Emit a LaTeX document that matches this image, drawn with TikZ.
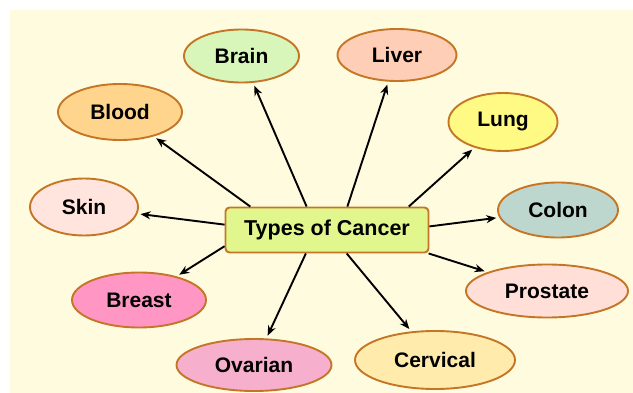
\documentclass[tikz,border=0pt]{standalone}
\usepackage{fontspec}
\setmainfont{Liberation Sans}
\usetikzlibrary{positioning}
\usetikzlibrary{shapes.geometric}
\usetikzlibrary{arrows.meta}

\definecolor{cream}{RGB}{255,251,222}
\definecolor{rim}{RGB}{196,118,38}
\definecolor{hubfill}{RGB}{226,246,142}
\definecolor{brainfill}{RGB}{216,245,186}
\definecolor{liverfill}{RGB}{255,206,182}
\definecolor{bloodfill}{RGB}{255,213,142}
\definecolor{lungfill}{RGB}{255,250,132}
\definecolor{skinfill}{RGB}{255,229,221}
\definecolor{colonfill}{RGB}{190,215,206}
\definecolor{breastfill}{RGB}{255,150,196}
\definecolor{prostatefill}{RGB}{255,223,216}
\definecolor{ovarianfill}{RGB}{246,176,206}
\definecolor{cervicalfill}{RGB}{255,236,172}

\tikzset{
    organ/.style={ellipse, draw=rim, line width=1.9pt, inner sep=0pt,
        font=\bfseries\fontsize{21}{24}\selectfont},
    hub/.style={rectangle, rounded corners=4pt, draw=rim, line width=1.9pt, fill=hubfill,
        minimum width=203pt, minimum height=45pt, inner sep=0pt,
        font=\bfseries\fontsize{21.5}{24}\selectfont},
    spoke/.style={-{Stealth[length=10pt,width=8pt]}, line width=1.9pt, shorten >=3pt}
}

\begin{document}
\begin{tikzpicture}[on grid]
    \useasboundingbox (0,0) rectangle (633pt,-393pt);
    \fill [cream] (10pt,-10pt) rectangle (633pt,-393pt);

    \node [hub] (cancer) at (327pt,-230pt) {Types of Cancer};

    \node [organ, fill=brainfill, minimum width=115pt, minimum height=53pt, above left=174pt and 85.5pt of cancer] (brain) {Brain};
    \node [organ, fill=liverfill, minimum width=119pt, minimum height=52pt, above right=175pt and 70pt of cancer] (liver) {Liver};
    \node [organ, fill=bloodfill, minimum width=124pt, minimum height=56pt, above left=118pt and 207pt of cancer] (blood) {Blood};
    \node [organ, fill=lungfill, minimum width=109pt, minimum height=58pt, above right=108pt and 176pt of cancer] (lung) {Lung};
    \node [organ, fill=skinfill, minimum width=108pt, minimum height=57pt, above left=23pt and 243pt of cancer] (skin) {Skin};
    \node [organ, fill=colonfill, minimum width=120pt, minimum height=55pt, above right=20pt and 231pt of cancer] (colon) {Colon};
    \node [organ, fill=breastfill, minimum width=134pt, minimum height=55pt, below left=70pt and 188pt of cancer] (breast) {Breast};
    \node [organ, fill=prostatefill, minimum width=162pt, minimum height=53pt, below right=61pt and 220pt of cancer] (prostate) {Prostate};
    \node [organ, fill=ovarianfill, minimum width=155pt, minimum height=52pt, below left=135pt and 73pt of cancer] (ovarian) {Ovarian};
    \node [organ, fill=cervicalfill, minimum width=160pt, minimum height=58pt, below right=130pt and 108pt of cancer] (cervical) {Cervical};

    \draw [spoke] (cancer.163) -- (blood);
    \draw [spoke] (cancer.131) -- (brain);
    \draw [spoke] (cancer.49) -- (liver);
    \draw [spoke] (cancer.16) -- (lung);
    \draw [spoke] (cancer.2) -- (colon);
    \draw [spoke] (cancer.-13) -- (prostate);
    \draw [spoke] (cancer.-50) -- (cervical);
    \draw [spoke] (cancer.-132) -- (ovarian);
    \draw [spoke] (cancer.189) -- (breast);
    \draw [spoke] (cancer.177) -- (skin);

\end{tikzpicture}
\end{document}
